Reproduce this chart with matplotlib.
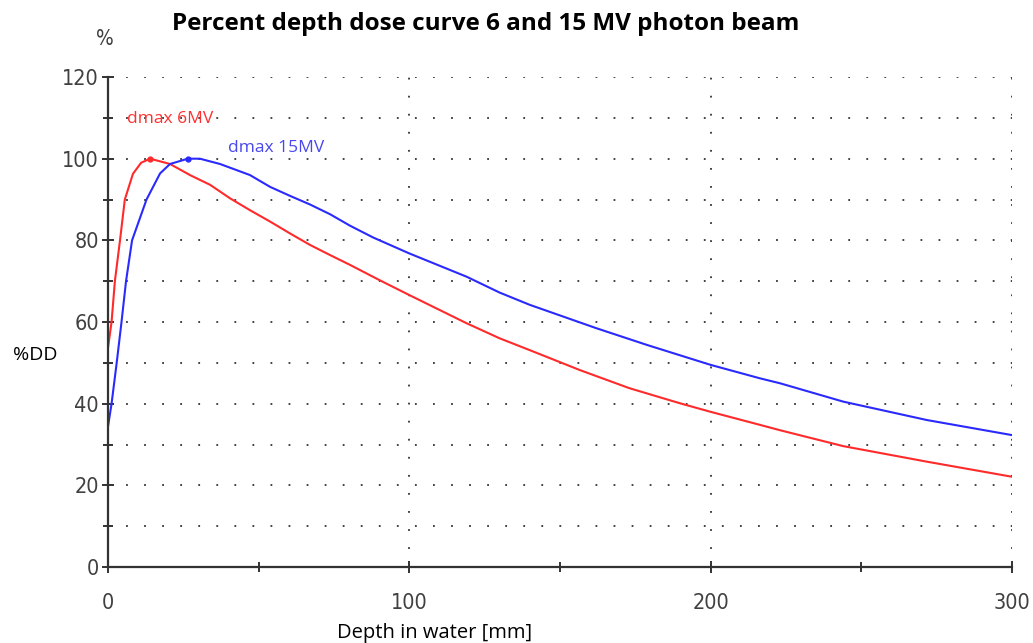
import matplotlib
matplotlib.use("Agg")
import matplotlib.pyplot as plt
from matplotlib.ticker import MultipleLocator

# 6 MV 光子束 (紅)
depth_6 = [0, 1.2, 2.3, 4, 5.6, 8.3, 11, 14, 20.6, 27.2, 33.9, 40.5, 47.1, 53.8, 60.4,
           67, 73.7, 80.3, 90, 100, 119, 130, 140, 156.7, 173, 189.8, 200, 216.4,
           223, 244, 271.7, 300]
pdd_6 = [53.6, 60, 70, 80, 90, 96.3, 99, 100, 98.7, 96, 93.6, 90.3, 87.4, 84.6, 81.7,
         78.9, 76.4, 74, 70.3, 66.6, 59.7, 56, 53.1, 48.2, 43.8, 40.1, 38, 34.8,
         33.5, 29.6, 25.8, 22.1]

# 15 MV 光子束 (藍)
depth_15 = [0, 1.2, 2.9, 4.5, 6, 8, 12.8, 17.3, 20.6, 26.5, 30.5, 37.2, 47.1, 53.8,
            60.4, 67, 73.7, 80.3, 88, 100, 119, 130, 140, 162, 178.8, 200, 216.4,
            223, 244, 271.7, 300]
pdd_15 = [34.3, 40, 50, 60, 70, 80, 90, 96.4, 98.7, 100, 100, 98.7, 96, 93.1,
          90.9, 88.8, 86.4, 83.6, 80.7, 76.8, 71.1, 67.2, 64.2, 58.5, 54.4, 49.5, 46.2,
          45, 40.5, 36, 32.3]

dmax_6 = (14, 100)
dmax_15 = (26.5, 100)

gray = "#404040"
txt_font = ["Open Sans", "DejaVu Sans"]

fig = plt.figure(figsize=(10.33, 6.43), dpi=100)
ax = fig.add_axes([0.1045, 0.1182, 0.8752, 0.762])

ax.plot(depth_6, pdd_6, color="#ff2a2a", lw=1.5)
ax.plot(depth_15, pdd_15, color="#2a2aff", lw=1.5)
ax.plot(*dmax_6, "o", color="#ff2a2a", ms=3.5)
ax.plot(*dmax_15, "o", color="#2a2aff", ms=3.5)

ax.text(6.3, 109.8, "dmax 6MV", color="#ff3030", fontsize=12.5, va="center",
        family=txt_font)
ax.text(40, 102.5, "dmax 15MV", color="#4848ee", fontsize=12.5, va="center",
        family=txt_font)

ax.set_xlim(0, 300)
ax.set_ylim(0, 120)
ax.xaxis.set_major_locator(MultipleLocator(100))
ax.xaxis.set_minor_locator(MultipleLocator(50))
ax.yaxis.set_major_locator(MultipleLocator(20))
ax.yaxis.set_minor_locator(MultipleLocator(10))

# 虛點格線
dots = (0, (1, 9))
for yv in range(10, 121, 10):
    ax.axhline(yv, color="#333333", lw=1.3, linestyle=dots, zorder=0)
for xv in (100, 200, 300):
    ax.axvline(xv, color="#333333", lw=1.3, linestyle=dots, zorder=0)

for s in ("top", "right"):
    ax.spines[s].set_visible(False)
for s in ("left", "bottom"):
    ax.spines[s].set_color("#333333")
    ax.spines[s].set_linewidth(1.6)

ax.tick_params(which="both", direction="inout", color="#333333", width=1.4)
ax.tick_params(which="major", length=9)
ax.tick_params(which="minor", length=7)
ax.tick_params(axis="x", which="major", pad=14)
ax.tick_params(axis="y", which="major", pad=2)
for lab in ax.get_xticklabels() + ax.get_yticklabels():
    lab.set_family("DejaVu Sans")
    lab.set_stretch("condensed")
    lab.set_fontsize(15.5)
    lab.set_color(gray)

fig.text(0.47, 0.962, "Percent depth dose curve 6 and 15 MV photon beam",
         ha="center", va="center", fontsize=17.5, fontweight="bold",
         family=txt_font)
fig.text(0.102, 0.94, "%", ha="center", va="center", fontsize=15, color=gray,
         family="DejaVu Sans", stretch="condensed")
fig.text(0.034, 0.448, "%DD", ha="center", va="center", fontsize=14,
         family=txt_font)
fig.text(0.421, 0.016, "Depth in water [mm]", ha="center", va="center", fontsize=14.5,
         family=txt_font)

fig.savefig("out.png", dpi=100)
